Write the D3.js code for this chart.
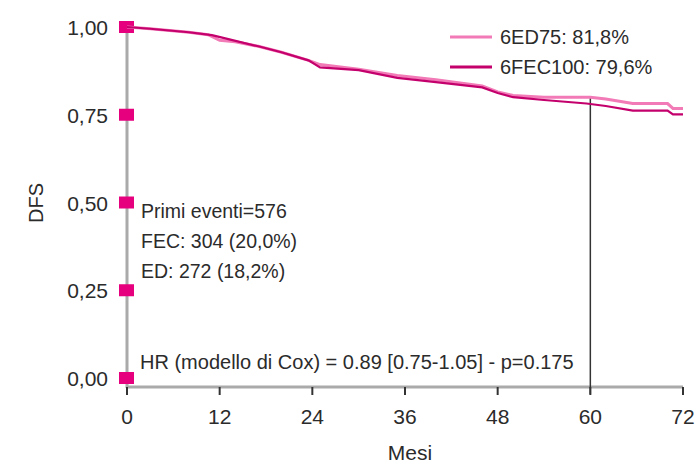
<!DOCTYPE html>
<html>
<head>
<meta charset="utf-8">
<script src="https://cdn.jsdelivr.net/npm/d3@7"></script>
<style>
  body { margin: 0; background: #fff; }
  text { font-family: 'Liberation Sans', Arial, sans-serif; fill: #2b2b2b; }
</style>
</head>
<body>
<div id="chart"></div>
<script>
// months, DFS
const ed75Data = [
  [0, 1.0], [3, 0.995], [8, 0.985], [10.5, 0.978], [12, 0.962], [14, 0.958],
  [17, 0.945], [20, 0.928], [23.5, 0.905], [25, 0.893], [30, 0.880], [35, 0.862],
  [40, 0.850], [46, 0.832], [48, 0.815], [50, 0.805], [54, 0.800], [60, 0.800],
  [62, 0.795], [65.5, 0.782], [70, 0.782], [70.7, 0.768], [72, 0.768]
];

const fec100Data = [
  [0, 1.0], [3, 0.995], [8, 0.985], [11, 0.977], [13, 0.966], [17, 0.945],
  [20, 0.928], [23.5, 0.905], [25, 0.885], [30, 0.877], [35, 0.855], [40, 0.843],
  [46, 0.828], [48, 0.812], [50, 0.800], [54, 0.792], [59.5, 0.782], [62, 0.775],
  [65.5, 0.762], [70, 0.762], [70.7, 0.751], [72, 0.751]
];

const xTicks = [0, 12, 24, 36, 48, 60, 72];
const yTicks = [0, 0.25, 0.5, 0.75, 1.0];
const legendLabels = ['6ED75: 81,8%', '6FEC100: 79,6%'];
const noteLines = ['Primi eventi=576', 'FEC: 304 (20,0%)', 'ED: 272 (18,2%)'];
const hrText = 'HR (modello di Cox) = 0.89 [0.75-1.05] - p=0.175';
const markMonth = 60;

const width = 698, height = 466;
const colors = ['#f27ab6', '#c4006d'];

let svg = d3.select('#chart').append('svg')
  .attr('width', width)
  .attr('height', height);

let x = d3.scaleLinear().domain([0, 72]).range([127, 683]);
let y = d3.scaleLinear().domain([0, 1]).range([378, 27]);
let axisY = 387;

// Axes lines (gray)
svg.append('line')
  .attr('x1', x(0)).attr('x2', x(0))
  .attr('y1', y(1)).attr('y2', axisY + 1)
  .attr('stroke', '#aaaaaa').attr('stroke-width', 3);
svg.append('line')
  .attr('x1', x(0)).attr('x2', x(72))
  .attr('y1', axisY).attr('y2', axisY)
  .attr('stroke', '#aaaaaa').attr('stroke-width', 3);

// x ticks and labels
for (let t of xTicks) {
  svg.append('line')
    .attr('x1', x(t)).attr('x2', x(t))
    .attr('y1', axisY).attr('y2', axisY + 8)
    .attr('stroke', '#333').attr('stroke-width', 2);
  svg.append('text')
    .text(t)
    .attr('x', x(t)).attr('y', 424)
    .attr('text-anchor', 'middle')
    .attr('font-size', 21);
}

// y ticks: pink squares + labels
for (let t of yTicks) {
  svg.append('rect')
    .attr('x', x(0) - 8).attr('y', y(t) - 6)
    .attr('width', 15).attr('height', 12)
    .attr('fill', '#e6007e');
  svg.append('text')
    .text(d3.format('.2f')(t).replace('.', ','))
    .attr('x', 108).attr('y', y(t) + 8)
    .attr('text-anchor', 'end')
    .attr('font-size', 21);
}

// axis titles
svg.append('text')
  .text('Mesi')
  .attr('x', 410).attr('y', 460)
  .attr('text-anchor', 'middle')
  .attr('font-size', 21);
svg.append('text')
  .text('DFS')
  .attr('transform', 'translate(43,203) rotate(-90)')
  .attr('text-anchor', 'middle')
  .attr('font-size', 20);

// 60 month marker
svg.append('line')
  .attr('x1', x(markMonth)).attr('x2', x(markMonth))
  .attr('y1', y(0.80)).attr('y2', axisY + 7)
  .attr('stroke', '#333').attr('stroke-width', 1.5);

// curves
let line = d3.line().x(d => x(d[0])).y(d => y(d[1]));
svg.append('path').attr('d', line(ed75Data))
  .attr('fill', 'none').attr('stroke', colors[0]).attr('stroke-width', 3);
svg.append('path').attr('d', line(fec100Data))
  .attr('fill', 'none').attr('stroke', colors[1]).attr('stroke-width', 2.2);

// legend
legendLabels.forEach((lab, i) => {
  let ly = 37 + i * 30;
  svg.append('line')
    .attr('x1', 450).attr('x2', 492)
    .attr('y1', ly).attr('y2', ly)
    .attr('stroke', colors[i]).attr('stroke-width', 3);
  svg.append('text')
    .text(lab)
    .attr('x', 500).attr('y', ly + 7)
    .attr('font-size', 20);
});

// notes
noteLines.forEach((s, i) => {
  svg.append('text')
    .text(s)
    .attr('x', 141).attr('y', 218 + i * 30)
    .attr('font-size', 19.5);
});
svg.append('text')
  .text(hrText)
  .attr('x', 140).attr('y', 369)
  .attr('font-size', 20);
</script>
</body>
</html>
